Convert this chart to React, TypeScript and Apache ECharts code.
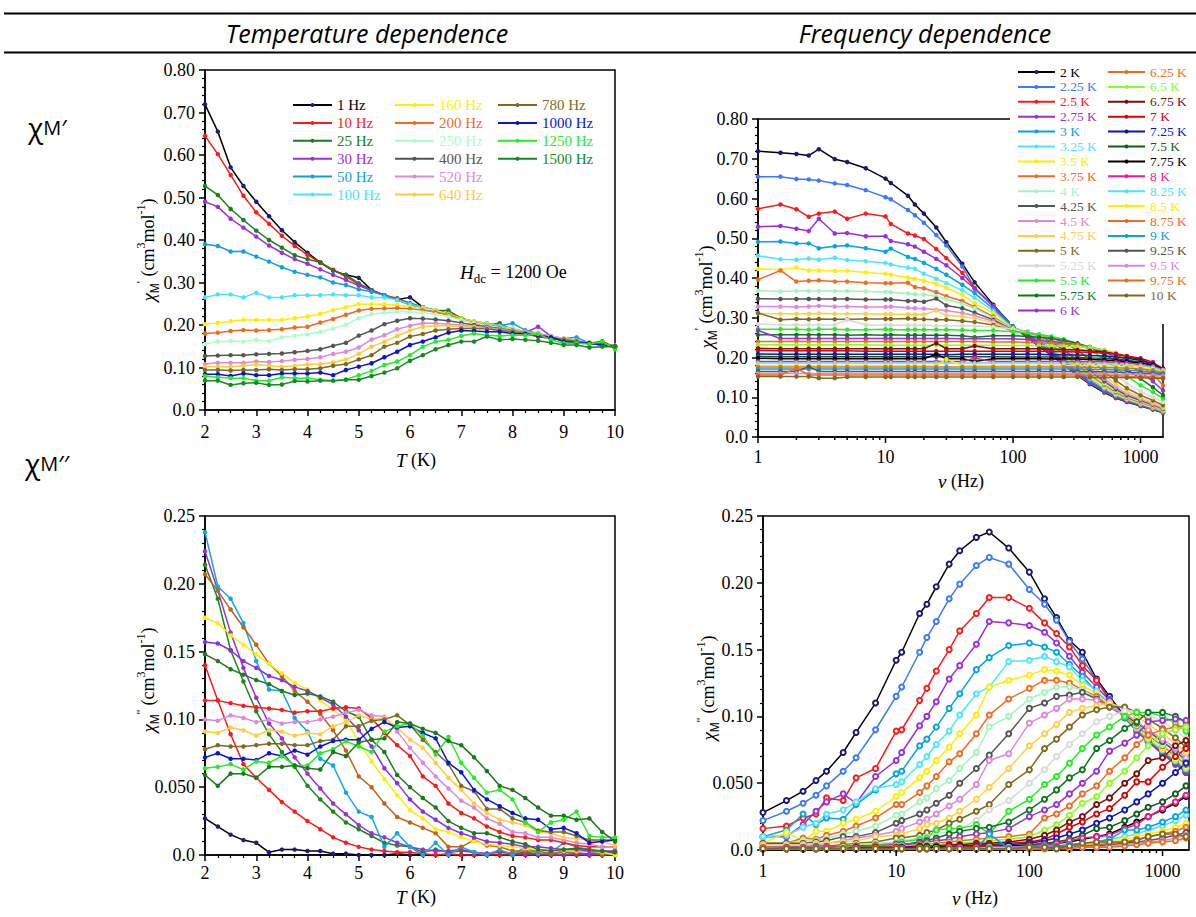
import React, { useEffect, useRef } from "react";
import * as echarts from "echarts";

const SERIF = "'Liberation Serif', 'Times New Roman', serif";
const SANS = "'Open Sans', 'Noto Sans', sans-serif";

// ---------- temperature dependence (x = T / K) ----------
const TEMPS = [2, 2.25, 2.5, 2.75, 3, 3.25, 3.5, 3.75, 4, 4.25, 4.5, 4.75, 5, 5.25, 5.5, 5.75, 6, 6.25, 6.5, 6.75, 7, 7.25, 7.5, 7.75, 8, 8.25, 8.5, 8.75, 9, 9.25, 9.5, 9.75, 10];
const T_TICK_LABELS = ["2", "3", "4", "5", "6", "7", "8", "9", "10"];
const FREQ_NAMES = ["1 Hz", "10 Hz", "25 Hz", "30 Hz", "50 Hz", "100 Hz", "160 Hz", "200 Hz", "250 Hz", "400 Hz", "520 Hz", "640 Hz", "780 Hz", "1000 Hz", "1250 Hz", "1500 Hz"];
const FREQ_COLORS_TOP = ["#000000", "#ff1a1a", "#1a801a", "#9b30d9", "#10a0e0", "#45e5ff", "#ffee00", "#f26b1d", "#a8ffc8", "#555555", "#dd88dd", "#ffcc33", "#806a1e", "#0a14d8", "#22ee22", "#138a25"];
const FREQ_MARKERS_TOP = ["#1a1a8a", "#ff1a1a", "#1a801a", "#9b30d9", "#10a0e0", "#45e5ff", "#ffee00", "#f26b1d", "#a8ffc8", "#555555", "#dd88dd", "#ffcc33", "#806a1e", "#0a14d8", "#22ee22", "#138a25"];
const FREQ_COLORS_BOTTOM = ["#000000", "#ff1a1a", "#1a8a1a", "#9b30d9", "#10a8e8", "#c0641a", "#ffee00", "#8a30e0", "#1e7a1e", "#ff1a1a", "#dd88dd", "#ffcc44", "#806a1e", "#0a14d8", "#22ee22", "#1a7a1a"];

// chi' (top left), one array per frequency, values at TEMPS
const TL_1 = [0.719,0.655,0.571,0.527,0.49,0.456,0.423,0.395,0.37,0.347,0.328,0.318,0.311,0.282,0.27,0.26,0.265,0.242,0.234,0.227,0.216,0.208,0.2,0.192,0.187,0.18,0.173,0.169,0.165,0.161,0.157,0.153,0.149];
const TL_10 = [0.645,0.602,0.553,0.504,0.465,0.438,0.41,0.386,0.365,0.347,0.33,0.314,0.296,0.282,0.27,0.263,0.251,0.242,0.231,0.224,0.213,0.205,0.198,0.19,0.184,0.179,0.173,0.168,0.165,0.16,0.157,0.153,0.151];
const TL_25 = [0.527,0.506,0.473,0.447,0.422,0.4,0.382,0.364,0.355,0.347,0.328,0.318,0.298,0.282,0.27,0.26,0.251,0.242,0.234,0.234,0.216,0.208,0.2,0.204,0.188,0.182,0.176,0.169,0.165,0.161,0.157,0.162,0.147];
const TL_30 = [0.49,0.478,0.45,0.429,0.408,0.387,0.37,0.355,0.344,0.331,0.318,0.306,0.293,0.281,0.27,0.259,0.249,0.241,0.234,0.224,0.214,0.206,0.198,0.192,0.187,0.182,0.196,0.174,0.166,0.161,0.157,0.153,0.149];
const TL_50 = [0.39,0.386,0.373,0.373,0.361,0.349,0.336,0.325,0.318,0.312,0.3,0.294,0.284,0.278,0.27,0.259,0.247,0.239,0.231,0.227,0.213,0.208,0.204,0.198,0.204,0.188,0.18,0.173,0.168,0.171,0.157,0.153,0.151];
const TL_100 = [0.265,0.272,0.272,0.265,0.276,0.265,0.265,0.27,0.27,0.27,0.272,0.27,0.27,0.265,0.265,0.259,0.249,0.242,0.234,0.224,0.213,0.208,0.204,0.198,0.192,0.184,0.18,0.174,0.169,0.163,0.158,0.153,0.149];
const TL_160 = [0.202,0.205,0.209,0.212,0.212,0.212,0.212,0.216,0.22,0.226,0.235,0.242,0.249,0.249,0.249,0.247,0.243,0.239,0.234,0.226,0.216,0.208,0.202,0.196,0.19,0.184,0.179,0.173,0.168,0.162,0.158,0.155,0.151];
const TL_200 = [0.18,0.182,0.186,0.188,0.187,0.188,0.19,0.194,0.196,0.206,0.214,0.224,0.234,0.238,0.239,0.24,0.238,0.235,0.23,0.224,0.213,0.206,0.2,0.196,0.188,0.184,0.179,0.173,0.167,0.162,0.158,0.155,0.151];
const TL_250 = [0.155,0.161,0.162,0.161,0.165,0.162,0.171,0.174,0.178,0.184,0.192,0.2,0.216,0.226,0.229,0.231,0.231,0.229,0.225,0.22,0.212,0.205,0.199,0.194,0.188,0.183,0.178,0.173,0.167,0.162,0.158,0.155,0.151];
const TL_400 = [0.127,0.128,0.129,0.129,0.131,0.132,0.133,0.136,0.139,0.143,0.151,0.158,0.175,0.187,0.202,0.21,0.216,0.215,0.213,0.21,0.205,0.2,0.196,0.192,0.187,0.182,0.176,0.171,0.166,0.162,0.158,0.155,0.151];
const TL_520 = [0.108,0.111,0.111,0.111,0.114,0.113,0.115,0.118,0.12,0.124,0.132,0.137,0.147,0.166,0.176,0.19,0.198,0.204,0.204,0.202,0.2,0.196,0.194,0.19,0.186,0.182,0.178,0.173,0.168,0.163,0.158,0.155,0.151];
const TL_640 = [0.102,0.102,0.102,0.104,0.107,0.104,0.102,0.104,0.107,0.108,0.112,0.119,0.132,0.149,0.161,0.174,0.187,0.196,0.198,0.198,0.196,0.195,0.191,0.188,0.184,0.18,0.176,0.172,0.168,0.163,0.158,0.155,0.151];
const TL_780 = [0.094,0.094,0.093,0.094,0.094,0.096,0.094,0.096,0.096,0.098,0.104,0.108,0.119,0.129,0.149,0.158,0.173,0.179,0.187,0.19,0.192,0.192,0.191,0.187,0.184,0.18,0.176,0.171,0.166,0.162,0.158,0.155,0.151];
const TL_1000 = [0.084,0.084,0.08,0.086,0.082,0.082,0.086,0.086,0.086,0.088,0.082,0.094,0.102,0.11,0.124,0.137,0.153,0.161,0.171,0.182,0.187,0.186,0.184,0.184,0.18,0.179,0.176,0.171,0.161,0.158,0.157,0.153,0.149];
const TL_1250 = [0.08,0.077,0.075,0.075,0.069,0.069,0.077,0.075,0.075,0.071,0.069,0.072,0.082,0.092,0.106,0.114,0.129,0.149,0.161,0.165,0.174,0.18,0.176,0.174,0.176,0.176,0.179,0.165,0.157,0.157,0.155,0.161,0.143];
const TL_1500 = [0.069,0.069,0.059,0.063,0.064,0.059,0.06,0.068,0.067,0.069,0.069,0.071,0.071,0.08,0.088,0.098,0.116,0.129,0.143,0.153,0.161,0.161,0.173,0.165,0.167,0.165,0.163,0.158,0.153,0.153,0.147,0.149,0.149];
const TL_VALUES = [TL_1, TL_10, TL_25, TL_30, TL_50, TL_100, TL_160, TL_200, TL_250, TL_400, TL_520, TL_640, TL_780, TL_1000, TL_1250, TL_1500];

// chi'' (bottom left)
const BL_1 = [0.027,0.021,0.015,0.011,0.009,0.002,0.004,0.004,0.003,0.003,0.001,0.001,0,0,0,0.001,0,0,0,0,0,0,0,0,0,0,0,0,0,0,0,0,0];
const BL_10 = [0.14,0.114,0.089,0.067,0.057,0.048,0.039,0.032,0.025,0.019,0.013,0.009,0.006,0.004,0.003,0.002,0.002,0.001,0,0.001,0,0,0,0,0,0,0,0,0,0,0,0,0];
const BL_25 = [0.214,0.189,0.151,0.128,0.106,0.089,0.076,0.065,0.051,0.041,0.032,0.024,0.019,0.014,0.009,0.007,0.006,0.002,0.004,0.002,0.003,0.002,0.001,0.002,0.001,0.002,0.001,0.001,0.002,0.001,0.001,0.001,0.001];
const BL_30 = [0.224,0.195,0.164,0.138,0.116,0.097,0.086,0.072,0.06,0.049,0.038,0.03,0.022,0.016,0.013,0.009,0.006,0.004,0.003,0.003,0.004,0.002,0.001,0.003,0.001,0.001,0.001,0,0,0.001,0,0.001,0.002];
const BL_50 = [0.238,0.198,0.189,0.171,0.143,0.122,0.121,0.101,0.091,0.071,0.066,0.046,0.032,0.028,0.006,0.016,0.006,0,0.009,0,0.006,0.002,0,0.004,0,0.006,0.001,0.002,0.009,0.006,0.004,0.001,0.001];
const BL_100 = [0.207,0.195,0.181,0.168,0.155,0.141,0.132,0.121,0.113,0.104,0.092,0.077,0.058,0.05,0.038,0.028,0.024,0.02,0.016,0.006,0.006,0.011,0.007,0.006,0.003,0.003,0.003,0.001,0.003,0.002,0.003,0,0.003];
const BL_160 = [0.175,0.171,0.162,0.155,0.148,0.141,0.134,0.127,0.122,0.114,0.107,0.1,0.083,0.069,0.056,0.044,0.033,0.027,0.019,0.017,0.013,0.01,0.008,0.007,0.006,0.005,0.004,0.004,0.003,0.003,0.003,0.002,0];
const BL_200 = [0.157,0.156,0.151,0.143,0.138,0.132,0.129,0.124,0.121,0.116,0.111,0.102,0.092,0.08,0.064,0.053,0.041,0.032,0.026,0.02,0.016,0.013,0.01,0.009,0.008,0.006,0.006,0.005,0.004,0.004,0.003,0.003,0.003];
const BL_250 = [0.148,0.143,0.137,0.133,0.129,0.126,0.121,0.118,0.119,0.117,0.113,0.106,0.102,0.085,0.076,0.059,0.05,0.042,0.035,0.025,0.02,0.016,0.016,0.013,0.01,0.008,0.004,0.003,0.004,0.005,0.004,0.003,0.002];
const BL_400 = [0.114,0.114,0.112,0.11,0.109,0.108,0.107,0.105,0.106,0.106,0.108,0.109,0.108,0.101,0.09,0.081,0.073,0.058,0.051,0.038,0.031,0.027,0.021,0.017,0.014,0.013,0.011,0.011,0.009,0.007,0.006,0.006,0.006];
const BL_520 = [0.1,0.099,0.103,0.101,0.098,0.1,0.097,0.098,0.098,0.1,0.102,0.105,0.107,0.103,0.102,0.091,0.079,0.068,0.058,0.049,0.04,0.035,0.027,0.023,0.017,0.016,0.013,0.013,0.011,0.009,0.008,0.006,0.006];
const BL_640 = [0.091,0.09,0.094,0.092,0.088,0.092,0.091,0.088,0.09,0.089,0.095,0.098,0.103,0.1,0.101,0.094,0.085,0.079,0.068,0.057,0.048,0.038,0.031,0.026,0.024,0.022,0.017,0.016,0.013,0.012,0.011,0.01,0.007];
const BL_780 = [0.078,0.081,0.08,0.08,0.081,0.082,0.082,0.081,0.081,0.084,0.085,0.095,0.095,0.099,0.1,0.103,0.096,0.085,0.076,0.067,0.051,0.047,0.034,0.034,0.027,0.024,0.018,0.017,0.017,0.014,0.011,0.011,0.011];
const BL_1000 = [0.072,0.075,0.071,0.071,0.07,0.075,0.073,0.077,0.074,0.08,0.084,0.085,0.085,0.093,0.098,0.094,0.095,0.09,0.086,0.068,0.061,0.048,0.041,0.036,0.031,0.027,0.026,0.019,0.02,0.016,0.009,0.01,0.011];
const BL_1250 = [0.064,0.065,0.067,0.063,0.069,0.068,0.073,0.066,0.066,0.075,0.078,0.084,0.08,0.076,0.091,0.095,0.097,0.088,0.074,0.087,0.068,0.057,0.046,0.048,0.041,0.024,0.017,0.024,0.026,0.032,0.014,0.013,0.013];
const BL_1500 = [0.059,0.051,0.06,0.06,0.057,0.065,0.065,0.066,0.064,0.063,0.076,0.073,0.083,0.085,0.086,0.098,0.097,0.093,0.09,0.084,0.081,0.072,0.062,0.051,0.048,0.042,0.035,0.029,0.029,0.026,0.027,0.017,0.01];
const BL_VALUES = [BL_1, BL_10, BL_25, BL_30, BL_50, BL_100, BL_160, BL_200, BL_250, BL_400, BL_520, BL_640, BL_780, BL_1000, BL_1250, BL_1500];

// ---------- frequency dependence (x = nu / Hz) ----------
const FREQS = [1, 1.5, 2, 2.5, 3, 4, 5, 7, 10, 11, 15, 17, 20, 25, 30, 40, 50, 70, 100, 130, 160, 200, 250, 320, 400, 520, 640, 780, 1000, 1250, 1500];
const NU_TICK_LABELS = ["1", "10", "100", "1000"];
const TEMP_NAMES = ["2 K", "2.25 K", "2.5 K", "2.75 K", "3 K", "3.25 K", "3.5 K", "3.75 K", "4 K", "4.25 K", "4.5 K", "4.75 K", "5 K", "5.25 K", "5.5 K", "5.75 K", "6 K", "6.25 K", "6.5 K", "6.75 K", "7 K", "7.25 K", "7.5 K", "7.75 K", "8 K", "8.25 K", "8.5 K", "8.75 K", "9 K", "9.25 K", "9.5 K", "9.75 K", "10 K"];
const TEMP_COLORS = ["#000000", "#3a78ff", "#ff1a1a", "#9a2fe0", "#00a5e5", "#4ae8ff", "#ffee00", "#f26b1d", "#a2f5bb", "#555555", "#dd88dd", "#ffd040", "#806a1e", "#d9d9d9", "#22ee22", "#0a7a1a", "#9a2fe0", "#f26b1d", "#88ff22", "#7a0f0f", "#e00000", "#0a14c8", "#0d5f1a", "#000000", "#ff1493", "#48e5ff", "#ffee00", "#f26b1d", "#00a5e5", "#555555", "#dd88dd", "#f26b1d", "#806a1e"];

// chi' (top right)
const TR_2 = [0.719,0.715,0.712,0.708,0.724,0.699,0.692,0.676,0.65,0.639,0.607,0.585,0.562,0.527,0.49,0.436,0.389,0.333,0.278,0.25,0.228,0.205,0.182,0.155,0.133,0.112,0.098,0.088,0.078,0.069,0.061];
const TR_2_25 = [0.655,0.655,0.649,0.648,0.645,0.638,0.634,0.621,0.603,0.598,0.571,0.558,0.539,0.508,0.482,0.429,0.375,0.33,0.278,0.252,0.23,0.207,0.184,0.157,0.135,0.114,0.099,0.089,0.079,0.07,0.062];
const TR_2_5 = [0.574,0.585,0.573,0.554,0.562,0.567,0.549,0.562,0.555,0.536,0.512,0.507,0.498,0.473,0.45,0.413,0.375,0.327,0.276,0.255,0.233,0.21,0.187,0.16,0.138,0.116,0.1,0.09,0.08,0.071,0.063];
const TR_2_75 = [0.529,0.531,0.524,0.518,0.549,0.512,0.513,0.505,0.505,0.493,0.485,0.479,0.466,0.448,0.432,0.4,0.373,0.329,0.276,0.258,0.237,0.214,0.19,0.163,0.14,0.118,0.102,0.091,0.081,0.072,0.063];
const TR_3 = [0.491,0.492,0.487,0.487,0.475,0.48,0.482,0.475,0.466,0.474,0.453,0.448,0.438,0.423,0.408,0.383,0.362,0.322,0.276,0.262,0.242,0.218,0.194,0.167,0.143,0.12,0.104,0.093,0.082,0.073,0.064];
const TR_3_25 = [0.456,0.447,0.446,0.449,0.446,0.451,0.445,0.442,0.438,0.434,0.426,0.423,0.411,0.398,0.387,0.369,0.35,0.317,0.273,0.264,0.246,0.223,0.199,0.171,0.147,0.123,0.106,0.095,0.083,0.074,0.065];
const TR_3_5 = [0.423,0.421,0.426,0.419,0.419,0.418,0.418,0.414,0.411,0.408,0.401,0.398,0.393,0.385,0.375,0.358,0.337,0.312,0.273,0.265,0.249,0.228,0.204,0.176,0.151,0.127,0.109,0.097,0.085,0.075,0.066];
const TR_3_75 = [0.396,0.419,0.391,0.393,0.394,0.391,0.391,0.388,0.387,0.387,0.388,0.377,0.374,0.364,0.354,0.342,0.327,0.303,0.271,0.265,0.252,0.232,0.209,0.181,0.156,0.131,0.112,0.099,0.087,0.077,0.067];
const TR_4 = [0.368,0.366,0.367,0.367,0.367,0.367,0.367,0.366,0.365,0.364,0.361,0.359,0.358,0.354,0.347,0.335,0.324,0.299,0.27,0.264,0.254,0.236,0.214,0.187,0.161,0.135,0.116,0.102,0.089,0.079,0.068];
const TR_4_25 = [0.348,0.347,0.347,0.347,0.347,0.347,0.347,0.346,0.346,0.346,0.342,0.342,0.34,0.348,0.331,0.324,0.313,0.295,0.268,0.264,0.256,0.24,0.219,0.193,0.167,0.14,0.12,0.105,0.092,0.081,0.07];
const TR_4_5 = [0.328,0.328,0.327,0.328,0.33,0.328,0.328,0.327,0.327,0.328,0.325,0.324,0.323,0.32,0.318,0.312,0.305,0.291,0.268,0.263,0.256,0.243,0.225,0.2,0.174,0.146,0.125,0.109,0.095,0.083,0.072];
const TR_4_75 = [0.311,0.31,0.31,0.31,0.311,0.31,0.31,0.31,0.309,0.309,0.309,0.308,0.308,0.318,0.306,0.303,0.299,0.287,0.267,0.262,0.257,0.247,0.232,0.208,0.183,0.154,0.132,0.115,0.099,0.087,0.075];
const TR_5 = [0.312,0.295,0.297,0.296,0.297,0.296,0.296,0.297,0.297,0.297,0.298,0.297,0.296,0.295,0.295,0.292,0.289,0.282,0.267,0.262,0.258,0.25,0.238,0.218,0.195,0.165,0.142,0.123,0.105,0.092,0.08];
const TR_5_25 = [0.284,0.282,0.282,0.282,0.282,0.282,0.295,0.282,0.282,0.281,0.281,0.281,0.281,0.28,0.28,0.28,0.279,0.277,0.271,0.263,0.258,0.252,0.243,0.228,0.208,0.18,0.156,0.135,0.115,0.1,0.088];
const TR_5_5 = [0.271,0.271,0.271,0.27,0.271,0.271,0.27,0.27,0.271,0.27,0.27,0.27,0.27,0.27,0.27,0.269,0.268,0.268,0.265,0.262,0.258,0.253,0.246,0.235,0.22,0.196,0.174,0.153,0.13,0.113,0.097];
const TR_5_75 = [0.257,0.257,0.257,0.257,0.257,0.257,0.256,0.257,0.256,0.257,0.256,0.256,0.256,0.256,0.256,0.255,0.251,0.255,0.255,0.253,0.251,0.248,0.243,0.236,0.226,0.208,0.19,0.17,0.147,0.125,0.105];
const TR_6 = [0.268,0.248,0.248,0.248,0.248,0.248,0.248,0.248,0.248,0.248,0.248,0.248,0.248,0.248,0.248,0.247,0.247,0.247,0.247,0.245,0.243,0.24,0.237,0.232,0.226,0.214,0.2,0.184,0.163,0.14,0.117];
const TR_6_25 = [0.24,0.24,0.241,0.24,0.24,0.24,0.24,0.24,0.24,0.24,0.24,0.24,0.24,0.24,0.24,0.24,0.24,0.239,0.239,0.238,0.237,0.236,0.234,0.232,0.227,0.218,0.207,0.195,0.178,0.158,0.13];
const TR_6_5 = [0.232,0.232,0.232,0.232,0.232,0.232,0.232,0.232,0.231,0.231,0.231,0.231,0.231,0.231,0.231,0.231,0.231,0.231,0.23,0.23,0.23,0.229,0.228,0.227,0.225,0.219,0.212,0.203,0.19,0.173,0.15];
const TR_6_75 = [0.223,0.222,0.222,0.222,0.222,0.222,0.222,0.222,0.222,0.222,0.222,0.222,0.222,0.236,0.222,0.222,0.229,0.222,0.222,0.222,0.222,0.221,0.22,0.219,0.217,0.214,0.209,0.203,0.195,0.182,0.163];
const TR_7 = [0.218,0.217,0.217,0.217,0.217,0.217,0.217,0.216,0.216,0.216,0.216,0.216,0.216,0.216,0.216,0.216,0.216,0.216,0.216,0.216,0.216,0.215,0.215,0.214,0.213,0.211,0.208,0.204,0.198,0.188,0.172];
const TR_7_25 = [0.209,0.208,0.208,0.208,0.208,0.208,0.208,0.208,0.208,0.208,0.208,0.208,0.208,0.208,0.207,0.208,0.208,0.208,0.208,0.208,0.208,0.207,0.207,0.206,0.205,0.204,0.201,0.198,0.193,0.184,0.17];
const TR_7_5 = [0.203,0.202,0.202,0.202,0.202,0.202,0.202,0.202,0.202,0.202,0.202,0.202,0.202,0.202,0.202,0.202,0.202,0.202,0.201,0.201,0.201,0.201,0.2,0.2,0.199,0.198,0.196,0.193,0.189,0.181,0.168];
const TR_7_75 = [0.198,0.197,0.197,0.197,0.197,0.197,0.197,0.197,0.197,0.197,0.197,0.197,0.197,0.208,0.197,0.197,0.19,0.197,0.197,0.197,0.197,0.196,0.196,0.196,0.195,0.194,0.192,0.19,0.186,0.18,0.172];
const TR_8 = [0.19,0.19,0.19,0.19,0.19,0.19,0.19,0.19,0.19,0.19,0.19,0.19,0.19,0.19,0.19,0.19,0.198,0.19,0.19,0.19,0.19,0.19,0.19,0.19,0.189,0.189,0.188,0.186,0.183,0.178,0.17];
const TR_8_25 = [0.186,0.186,0.186,0.186,0.186,0.186,0.186,0.186,0.186,0.186,0.186,0.186,0.186,0.186,0.186,0.186,0.186,0.186,0.186,0.186,0.186,0.185,0.185,0.185,0.185,0.184,0.183,0.181,0.179,0.175,0.168];
const TR_8_5 = [0.18,0.18,0.18,0.18,0.18,0.18,0.18,0.18,0.18,0.18,0.18,0.18,0.18,0.18,0.196,0.18,0.18,0.18,0.18,0.18,0.18,0.18,0.18,0.18,0.18,0.179,0.178,0.177,0.175,0.171,0.165];
const TR_8_75 = [0.176,0.176,0.176,0.176,0.176,0.176,0.176,0.176,0.176,0.176,0.176,0.176,0.176,0.176,0.176,0.176,0.176,0.176,0.176,0.176,0.176,0.176,0.176,0.176,0.175,0.175,0.174,0.173,0.171,0.168,0.162];
const TR_9 = [0.171,0.171,0.171,0.171,0.171,0.171,0.171,0.171,0.171,0.171,0.171,0.171,0.171,0.171,0.171,0.171,0.171,0.171,0.171,0.171,0.171,0.171,0.171,0.171,0.17,0.17,0.169,0.168,0.166,0.163,0.16];
const TR_9_25 = [0.165,0.165,0.165,0.177,0.165,0.165,0.165,0.165,0.165,0.165,0.165,0.165,0.165,0.165,0.165,0.165,0.165,0.165,0.165,0.165,0.165,0.165,0.165,0.165,0.164,0.164,0.163,0.162,0.161,0.159,0.157];
const TR_9_5 = [0.16,0.16,0.16,0.16,0.16,0.16,0.16,0.16,0.16,0.16,0.16,0.16,0.16,0.16,0.16,0.16,0.16,0.16,0.16,0.16,0.16,0.16,0.16,0.16,0.159,0.159,0.158,0.158,0.157,0.156,0.154];
const TR_9_75 = [0.156,0.156,0.173,0.156,0.156,0.156,0.156,0.156,0.156,0.156,0.156,0.156,0.156,0.156,0.156,0.156,0.156,0.156,0.156,0.156,0.156,0.156,0.156,0.156,0.155,0.155,0.154,0.153,0.152,0.151,0.15];
const TR_10 = [0.152,0.152,0.152,0.152,0.148,0.148,0.151,0.151,0.151,0.151,0.151,0.151,0.151,0.151,0.151,0.151,0.151,0.151,0.151,0.151,0.151,0.151,0.151,0.151,0.15,0.15,0.15,0.149,0.149,0.148,0.147];
const TR_VALUES = [TR_2, TR_2_25, TR_2_5, TR_2_75, TR_3, TR_3_25, TR_3_5, TR_3_75, TR_4, TR_4_25, TR_4_5, TR_4_75, TR_5, TR_5_25, TR_5_5, TR_5_75, TR_6, TR_6_25, TR_6_5, TR_6_75, TR_7, TR_7_25, TR_7_5, TR_7_75, TR_8, TR_8_25, TR_8_5, TR_8_75, TR_9, TR_9_25, TR_9_5, TR_9_75, TR_10];

// chi'' (bottom right)
const BR_2 = [0.028,0.037,0.044,0.052,0.059,0.073,0.088,0.11,0.142,0.148,0.177,0.184,0.197,0.214,0.224,0.234,0.238,0.226,0.208,0.188,0.174,0.157,0.148,0.128,0.115,0.1,0.09,0.082,0.072,0.065,0.058];
const BR_2_25 = [0.022,0.029,0.035,0.041,0.048,0.059,0.069,0.09,0.115,0.122,0.148,0.159,0.171,0.188,0.199,0.213,0.219,0.214,0.195,0.184,0.172,0.156,0.143,0.127,0.113,0.099,0.089,0.081,0.072,0.064,0.058];
const BR_2_5 = [0.016,0.018,0.024,0.027,0.039,0.037,0.054,0.061,0.089,0.09,0.112,0.121,0.134,0.15,0.164,0.177,0.189,0.189,0.181,0.17,0.162,0.152,0.138,0.127,0.112,0.099,0.089,0.081,0.072,0.065,0.058];
const BR_2_75 = [0.01,0.01,0.019,0.029,0.036,0.042,0.035,0.055,0.067,0.073,0.093,0.1,0.111,0.128,0.138,0.154,0.171,0.17,0.168,0.163,0.155,0.145,0.133,0.122,0.112,0.1,0.09,0.082,0.073,0.066,0.059];
const BR_3 = [0.01,0.015,0.027,0.019,0.024,0.023,0.034,0.045,0.057,0.059,0.078,0.083,0.092,0.106,0.117,0.135,0.144,0.153,0.155,0.152,0.148,0.139,0.13,0.118,0.11,0.099,0.09,0.082,0.074,0.066,0.06];
const BR_3_25 = [0.01,0.011,0.017,0.02,0.027,0.03,0.036,0.046,0.049,0.051,0.064,0.07,0.079,0.089,0.101,0.117,0.122,0.141,0.142,0.145,0.141,0.137,0.127,0.119,0.11,0.1,0.091,0.083,0.075,0.067,0.061];
const BR_3_5 = [0.005,0.013,0.007,0.014,0.014,0.02,0.023,0.029,0.04,0.043,0.054,0.059,0.067,0.077,0.087,0.101,0.122,0.127,0.131,0.135,0.134,0.131,0.123,0.117,0.108,0.1,0.092,0.084,0.076,0.068,0.062];
const BR_3_75 = [0.005,0.005,0.009,0.008,0.011,0.014,0.018,0.024,0.034,0.034,0.043,0.048,0.055,0.066,0.072,0.087,0.101,0.113,0.121,0.127,0.127,0.125,0.12,0.115,0.107,0.1,0.093,0.086,0.078,0.07,0.064];
const BR_4 = [0.005,0.005,0.007,0.007,0.009,0.012,0.014,0.018,0.026,0.027,0.036,0.039,0.046,0.052,0.061,0.073,0.092,0.1,0.113,0.118,0.122,0.122,0.12,0.113,0.107,0.101,0.094,0.087,0.079,0.072,0.065];
const BR_4_25 = [0.005,0.005,0.005,0.006,0.007,0.01,0.01,0.013,0.02,0.022,0.027,0.03,0.035,0.041,0.05,0.061,0.071,0.087,0.106,0.11,0.115,0.116,0.118,0.113,0.107,0.101,0.095,0.089,0.081,0.074,0.067];
const BR_4_5 = [0.002,0.003,0.003,0.004,0.005,0.007,0.009,0.011,0.014,0.016,0.021,0.023,0.027,0.033,0.038,0.049,0.067,0.072,0.095,0.101,0.106,0.113,0.113,0.112,0.107,0.102,0.096,0.09,0.083,0.076,0.069];
const BR_4_75 = [0.004,0.004,0.004,0.005,0.005,0.006,0.007,0.01,0.011,0.012,0.016,0.019,0.02,0.024,0.029,0.038,0.047,0.061,0.078,0.087,0.094,0.103,0.106,0.108,0.11,0.106,0.1,0.094,0.087,0.08,0.073];
const BR_5 = [0.001,0.002,0.002,0.003,0.003,0.004,0.005,0.006,0.009,0.009,0.011,0.013,0.015,0.02,0.023,0.029,0.034,0.049,0.06,0.076,0.083,0.092,0.101,0.105,0.107,0.107,0.103,0.098,0.091,0.084,0.077];
const BR_5_25 = [0.001,0.001,0.002,0.002,0.002,0.003,0.004,0.005,0.006,0.007,0.009,0.01,0.012,0.014,0.016,0.022,0.03,0.037,0.05,0.06,0.07,0.079,0.087,0.096,0.1,0.104,0.104,0.101,0.096,0.09,0.083];
const BR_5_5 = [0.001,0.001,0.001,0.002,0.002,0.003,0.003,0.004,0.005,0.006,0.008,0.009,0.015,0.016,0.016,0.019,0.012,0.029,0.038,0.049,0.055,0.065,0.076,0.086,0.092,0.1,0.103,0.103,0.1,0.095,0.089];
const BR_5_75 = [0.001,0.001,0.001,0.001,0.002,0.002,0.003,0.003,0.004,0.004,0.006,0.007,0.009,0.012,0.014,0.016,0.017,0.021,0.03,0.038,0.045,0.054,0.06,0.076,0.082,0.091,0.096,0.103,0.103,0.1,0.096];
const BR_6 = [0.002,0.002,0.002,0.002,0.002,0.003,0.003,0.003,0.004,0.004,0.005,0.006,0.007,0.008,0.01,0.012,0.013,0.016,0.025,0.03,0.034,0.042,0.05,0.059,0.074,0.08,0.086,0.096,0.097,0.098,0.097];
const BR_6_25 = [0.001,0.001,0.001,0.001,0.002,0.002,0.002,0.003,0.003,0.003,0.004,0.004,0.005,0.006,0.007,0.008,0.009,0.01,0.012,0.024,0.027,0.033,0.042,0.048,0.059,0.069,0.079,0.086,0.09,0.092,0.093];
const BR_6_5 = [0.001,0.001,0.001,0.001,0.001,0.002,0.002,0.002,0.003,0.003,0.003,0.004,0.004,0.005,0.005,0.006,0.007,0.008,0.01,0.015,0.019,0.026,0.035,0.04,0.05,0.059,0.069,0.078,0.087,0.09,0.092];
const BR_6_75 = [0.001,0.001,0.001,0.001,0.001,0.001,0.002,0.002,0.002,0.002,0.003,0.003,0.003,0.004,0.004,0.005,0.005,0.006,0.008,0.011,0.015,0.021,0.025,0.034,0.039,0.05,0.057,0.067,0.069,0.078,0.082];
const BR_7 = [0.001,0.001,0.001,0.001,0.001,0.001,0.001,0.002,0.002,0.002,0.002,0.002,0.003,0.003,0.003,0.004,0.004,0.005,0.006,0.008,0.012,0.017,0.021,0.027,0.031,0.041,0.051,0.051,0.062,0.07,0.076];
const BR_7_25 = [0.001,0.001,0.001,0.001,0.001,0.001,0.001,0.001,0.001,0.002,0.002,0.002,0.002,0.002,0.003,0.003,0.003,0.004,0.005,0.007,0.009,0.012,0.015,0.02,0.024,0.03,0.036,0.042,0.05,0.058,0.065];
const BR_7_5 = [0.001,0.001,0.001,0.001,0.001,0.001,0.001,0.001,0.001,0.001,0.002,0.002,0.002,0.002,0.002,0.003,0.003,0.003,0.004,0.005,0.006,0.008,0.011,0.016,0.017,0.022,0.027,0.032,0.036,0.042,0.048];
const BR_7_75 = [0.001,0.001,0.001,0.001,0.001,0.001,0.001,0.001,0.001,0.001,0.001,0.001,0.002,0.002,0.002,0.002,0.002,0.003,0.003,0.004,0.005,0.006,0.008,0.01,0.012,0.017,0.021,0.025,0.03,0.035,0.04];
const BR_8 = [0.001,0.001,0.001,0.001,0.002,0.001,0.001,0.001,0.001,0.001,0.001,0.001,0.001,0.002,0.002,0.002,0.002,0.002,0.003,0.004,0.005,0.007,0.009,0.01,0.011,0.016,0.019,0.025,0.031,0.036,0.041];
const BR_8_25 = [0.001,0.001,0.001,0.001,0.001,0.001,0.001,0.001,0.001,0.001,0.001,0.001,0.001,0.001,0.001,0.001,0.002,0.002,0.002,0.003,0.003,0.004,0.005,0.006,0.008,0.01,0.012,0.015,0.018,0.022,0.026];
const BR_8_5 = [0.001,0.001,0.001,0.001,0.001,0.001,0.001,0.001,0.001,0.001,0.001,0.001,0.001,0.001,0.001,0.001,0.001,0.001,0.002,0.002,0.003,0.003,0.004,0.005,0.006,0.008,0.01,0.012,0.014,0.017,0.02];
const BR_8_75 = [0.002,0.001,0.001,0.001,0.001,0.001,0.001,0.001,0.001,0.001,0.001,0.001,0.001,0.001,0.001,0.001,0.001,0.001,0.001,0.002,0.002,0.003,0.003,0.004,0.005,0.006,0.008,0.01,0.012,0.014,0.017];
const BR_9 = [0.001,0.001,0.001,0.001,0.001,0.001,0.001,0.001,0.001,0.001,0.001,0.001,0.001,0.001,0.001,0.001,0.012,0.001,0.002,0.003,0.003,0.004,0.005,0.006,0.008,0.015,0.015,0.017,0.021,0.025,0.03];
const BR_9_25 = [0.001,0.001,0.001,0.001,0.001,0.001,0.001,0.001,0.001,0.001,0.001,0.001,0.001,0.001,0.001,0.001,0.001,0.001,0.001,0.001,0.002,0.002,0.003,0.003,0.004,0.005,0.006,0.007,0.009,0.011,0.013];
const BR_9_5 = [0.001,0.001,0.001,0.001,0.001,0.001,0.001,0.001,0.001,0.001,0.001,0.001,0.001,0.001,0.001,0.001,0.001,0.001,0.001,0.001,0.001,0.002,0.002,0.002,0.003,0.004,0.005,0.006,0.007,0.009,0.011];
const BR_9_75 = [0.001,0.001,0.001,0.001,0.001,0.001,0.001,0.001,0.001,0.001,0.001,0.001,0.001,0.001,0.001,0.001,0.001,0.001,0.001,0.001,0.001,0.001,0.002,0.002,0.002,0.003,0.004,0.005,0.006,0.007,0.009];
const BR_10 = [0.001,0.001,0.001,0.001,0.001,0.001,0.001,0.001,0.001,0.001,0.001,0.001,0.001,0.001,0.001,0.001,0.001,0.001,0.002,0.002,0.001,0.003,0.005,0.006,0.006,0.006,0.007,0.01,0.012,0.012,0.01];
const BR_VALUES = [BR_2, BR_2_25, BR_2_5, BR_2_75, BR_3, BR_3_25, BR_3_5, BR_3_75, BR_4, BR_4_25, BR_4_5, BR_4_75, BR_5, BR_5_25, BR_5_5, BR_5_75, BR_6, BR_6_25, BR_6_5, BR_6_75, BR_7, BR_7_25, BR_7_5, BR_7_75, BR_8, BR_8_25, BR_8_5, BR_8_75, BR_9, BR_9_25, BR_9_5, BR_9_75, BR_10];

// log-axis tick positions (decades and 2..9 minor steps)
const LOG_MAJOR = [1, 10, 100, 1000];
const LOG_MINOR = [2, 3, 4, 5, 6, 7, 8, 9, 20, 30, 40, 50, 60, 70, 80, 90, 200, 300, 400, 500, 600, 700, 800, 900];

const axisBase = {
  axisLine: { show: true, onZero: false, lineStyle: { color: "#000", width: 1.5 } },
  axisTick: { show: true, length: 6, lineStyle: { color: "#000", width: 1.5 } },
  splitLine: { show: false },
};

function tempAxis(gridIndex: number, margin: number) {
  return {
    type: "value", gridIndex, min: 2, max: 10, interval: 1, ...axisBase,
    minorTick: { show: true, splitNumber: 4, length: 3, lineStyle: { color: "#000", width: 1.2 } },
    axisLabel: {
      color: "#000", fontFamily: SERIF, fontSize: 18, margin,
      formatter: (v: number) => T_TICK_LABELS.find((s) => Number(s) === v) || "",
    },
  };
}

function freqAxis(gridIndex: number, max: number, margin: number) {
  return {
    type: "log", logBase: 10, gridIndex, min: 1, max, ...axisBase,
    axisTick: { show: false },
    minorTick: { show: false },
    axisLabel: {
      color: "#000", fontFamily: SERIF, fontSize: 18, margin, showMaxLabel: false,
      formatter: (v: number) => NU_TICK_LABELS.find((s) => Math.abs(Number(s) - v) < 1e-6 * Math.max(1, v)) || "",
    },
  };
}

function chiAxis(gridIndex: number, max: number, interval: number, margin: number) {
  return {
    type: "value", gridIndex, min: 0, max, interval, ...axisBase,
    minorTick: { show: true, splitNumber: 5, length: 3, lineStyle: { color: "#000", width: 1.2 } },
    axisLabel: {
      color: "#000", fontFamily: SERIF, fontSize: 18, margin,
      formatter: (v: number) => {
        if (Math.abs(v) < 1e-9) return "0.0";
        if (Math.abs(v - 0.05) < 1e-9) return "0.050";
        return v.toFixed(2);
      },
    },
  };
}

function lineSeries(name: string, xs: number[], ys: number[], color: string, marker: string, axis: number, empty: boolean) {
  return {
    name, type: "line", xAxisIndex: axis, yAxisIndex: axis,
    data: xs.map((x, i) => [x, ys[i]]),
    symbol: empty ? "emptyCircle" : "circle",
    symbolSize: empty ? 5 : 4.5,
    lineStyle: { color, width: 1.5 },
    itemStyle: { color: marker, borderColor: marker, borderWidth: empty ? 1 : 0 },
    emphasis: { disabled: true },
    silent: true,
    z: 2,
  };
}

function logTickSeries(axis: number) {
  const data = [...LOG_MAJOR.map((v) => [v, 0, 1]), ...LOG_MINOR.map((v) => [v, 0, 0])];
  return {
    type: "custom", xAxisIndex: axis, yAxisIndex: axis, silent: true, clip: false, z: 5,
    encode: { x: 0, y: 1 },
    data,
    renderItem: (params: any, api: any) => {
      const p = api.coord([api.value(0), 0]);
      const len = api.value(2) === 1 ? 6 : 3;
      return {
        type: "line",
        shape: { x1: p[0], y1: p[1], x2: p[0], y2: p[1] + len },
        style: { stroke: "#000", lineWidth: 1.5 },
      };
    },
  };
}

function legendCol(names: string[], colors: string[], left: number, top: number, fontSize: number, lineHeight: number, gap: number, itemWidth: number) {
  return {
    orient: "vertical", left, top, padding: 0, itemGap: gap, itemWidth, itemHeight: 5,
    selectedMode: false,
    data: names.map((n, i) => ({ name: n, textStyle: { color: colors[i] } })),
    textStyle: { fontFamily: SERIF, fontSize, lineHeight },
  };
}

const RICH = {
  n: { fontFamily: SERIF, fontSize: 18, lineHeight: 26, fill: "#000", verticalAlign: "middle" },
  i: { fontFamily: SERIF, fontSize: 19, fontStyle: "italic", lineHeight: 26, fill: "#000", verticalAlign: "middle" },
  sp: { fontFamily: SERIF, fontSize: 12, lineHeight: 12, fill: "#000", verticalAlign: "top" },
  sb: { fontFamily: "'Liberation Sans', sans-serif", fontSize: 12, lineHeight: 12, fill: "#000", verticalAlign: "bottom" },
  sbs: { fontFamily: SERIF, fontSize: 13, lineHeight: 13, fill: "#000", verticalAlign: "bottom" },
};

function richText(text: string, x: number, y: number, rotate: boolean, align = "center") {
  return {
    type: "text", x, y, rotation: rotate ? Math.PI / 2 : 0, silent: true, z: 10,
    style: { text, rich: RICH, align, verticalAlign: "middle", fill: "#000", fontFamily: SERIF, fontSize: 18 },
  };
}

const CHI_RICH = {
  c: { fontFamily: SANS, fontSize: 28, fill: "#000" },
  m: { fontFamily: SANS, fontSize: 20, fill: "#000" },
  p: { fontFamily: SANS, fontSize: 24, fill: "#000" },
};

export default function App() {
  const ref = useRef<HTMLDivElement>(null);
  useEffect(() => {
    if (!ref.current) return;
    const chart = echarts.init(ref.current, null, { renderer: "svg" });

    const series: any[] = [];
    FREQ_NAMES.forEach((n, k) => series.push(lineSeries(n, TEMPS, TL_VALUES[k], FREQ_COLORS_TOP[k], FREQ_MARKERS_TOP[k], 0, false)));
    TEMP_NAMES.forEach((n, k) => series.push(lineSeries(n, FREQS, TR_VALUES[k], TEMP_COLORS[k], k === 0 ? "#1a1a7a" : TEMP_COLORS[k], 1, false)));
    FREQ_NAMES.forEach((n, k) => series.push(lineSeries("χ'' " + n, TEMPS, BL_VALUES[k], FREQ_COLORS_BOTTOM[k], k === 0 ? "#1a1a8a" : FREQ_COLORS_BOTTOM[k], 2, false)));
    TEMP_NAMES.forEach((n, k) => series.push(lineSeries("χ'' " + n, FREQS, BR_VALUES[k], TEMP_COLORS[k], k === 0 ? "#1a1a7a" : TEMP_COLORS[k], 3, true)));
    series.push(logTickSeries(1));
    series.push(logTickSeries(3));

    const frame = { show: true, borderColor: "#000", borderWidth: 1.5, backgroundColor: "transparent" };

    const option: any = {
      animation: false,
      backgroundColor: "#fff",
      textStyle: { fontFamily: SERIF },
      grid: [
        { left: 205, top: 70, width: 410, height: 340, ...frame },
        { left: 758, top: 119, width: 405, height: 318, ...frame },
        { left: 205, top: 516, width: 410, height: 339, ...frame },
        { left: 763, top: 516, width: 426, height: 334, ...frame },
      ],
      xAxis: [tempAxis(0, 13), freqAxis(1, 1500, 11), tempAxis(2, 9), freqAxis(3, 1580, 12)],
      yAxis: [chiAxis(0, 0.8, 0.1, 10), chiAxis(1, 0.8, 0.1, 10), chiAxis(2, 0.25, 0.05, 10), chiAxis(3, 0.25, 0.05, 10)],
      legend: [
        legendCol(FREQ_NAMES.slice(0, 6), FREQ_COLORS_TOP.slice(0, 6), 292, 97, 15, 16, 1.9, 39),
        legendCol(FREQ_NAMES.slice(6, 12), FREQ_COLORS_TOP.slice(6, 12), 394, 97, 15, 16, 1.9, 39),
        legendCol(FREQ_NAMES.slice(12), FREQ_COLORS_TOP.slice(12), 497, 97, 15, 16, 1.9, 39),
        legendCol(TEMP_NAMES.slice(0, 17), TEMP_COLORS.slice(0, 17), 1017, 65, 13.5, 13, 0.9, 37),
        legendCol(TEMP_NAMES.slice(17), TEMP_COLORS.slice(17), 1107, 65, 13.5, 13, 0.9, 37),
      ],
      graphic: [
        { type: "rect", shape: { x: 1010, y: 60, width: 186, height: 264 }, style: { fill: "#fff" }, z: 3, silent: true },
        { type: "line", shape: { x1: 4, y1: 13.5, x2: 1196, y2: 13.5 }, style: { stroke: "#000", lineWidth: 2 }, silent: true },
        { type: "line", shape: { x1: 4, y1: 52.5, x2: 1196, y2: 52.5 }, style: { stroke: "#000", lineWidth: 2 }, silent: true },
        { type: "text", x: 367, y: 33, silent: true, style: { text: "Temperature dependence", fontFamily: SANS, fontStyle: "italic", fontSize: 25, fill: "#000", align: "center", verticalAlign: "middle" } },
        { type: "text", x: 925, y: 33, silent: true, style: { text: "Frequency dependence", fontFamily: SANS, fontStyle: "italic", fontSize: 25, fill: "#000", align: "center", verticalAlign: "middle" } },
        { type: "text", x: 28, y: 127, silent: true, style: { text: "{c|χ}{m|M}{p|′}", rich: CHI_RICH, verticalAlign: "middle" } },
        { type: "text", x: 25, y: 463, silent: true, style: { text: "{c|χ}{m|M}{p|′′}", rich: CHI_RICH, verticalAlign: "middle" } },
        richText("{i|χ}{sb|M}{sp|'}{n| (cm}{sp|3}{n|mol}{sp|-1}{n|)}", 148, 250, true),
        richText("{i|χ}{sb|M}{sp|'}{n| (cm}{sp|3}{n|mol}{sp|-1}{n|)}", 706, 297, true),
        richText("{i|χ}{sb|M}{sp|''}{n| (cm}{sp|3}{n|mol}{sp|-1}{n|)}", 148, 680, true),
        richText("{i|χ}{sb|M}{sp|''}{n| (cm}{sp|3}{n|mol}{sp|-1}{n|)}", 708, 688, true),
        richText("{i|T}{n| (K)}", 416, 460, false),
        richText("{i|ν}{n| (Hz)}", 961, 481, false),
        richText("{i|T}{n| (K)}", 416, 897, false),
        richText("{i|ν}{n| (Hz)}", 975, 898, false),
        richText("{i|H}{sbs|dc}{n| = 1200 Oe}", 460, 272, false, "left"),
      ],
      series,
    };
    chart.setOption(option);
    return () => chart.dispose();
  }, []);
  return <div ref={ref} style={{ position: "absolute", left: 0, top: 0, width: 1196, height: 917 }} />;
}
